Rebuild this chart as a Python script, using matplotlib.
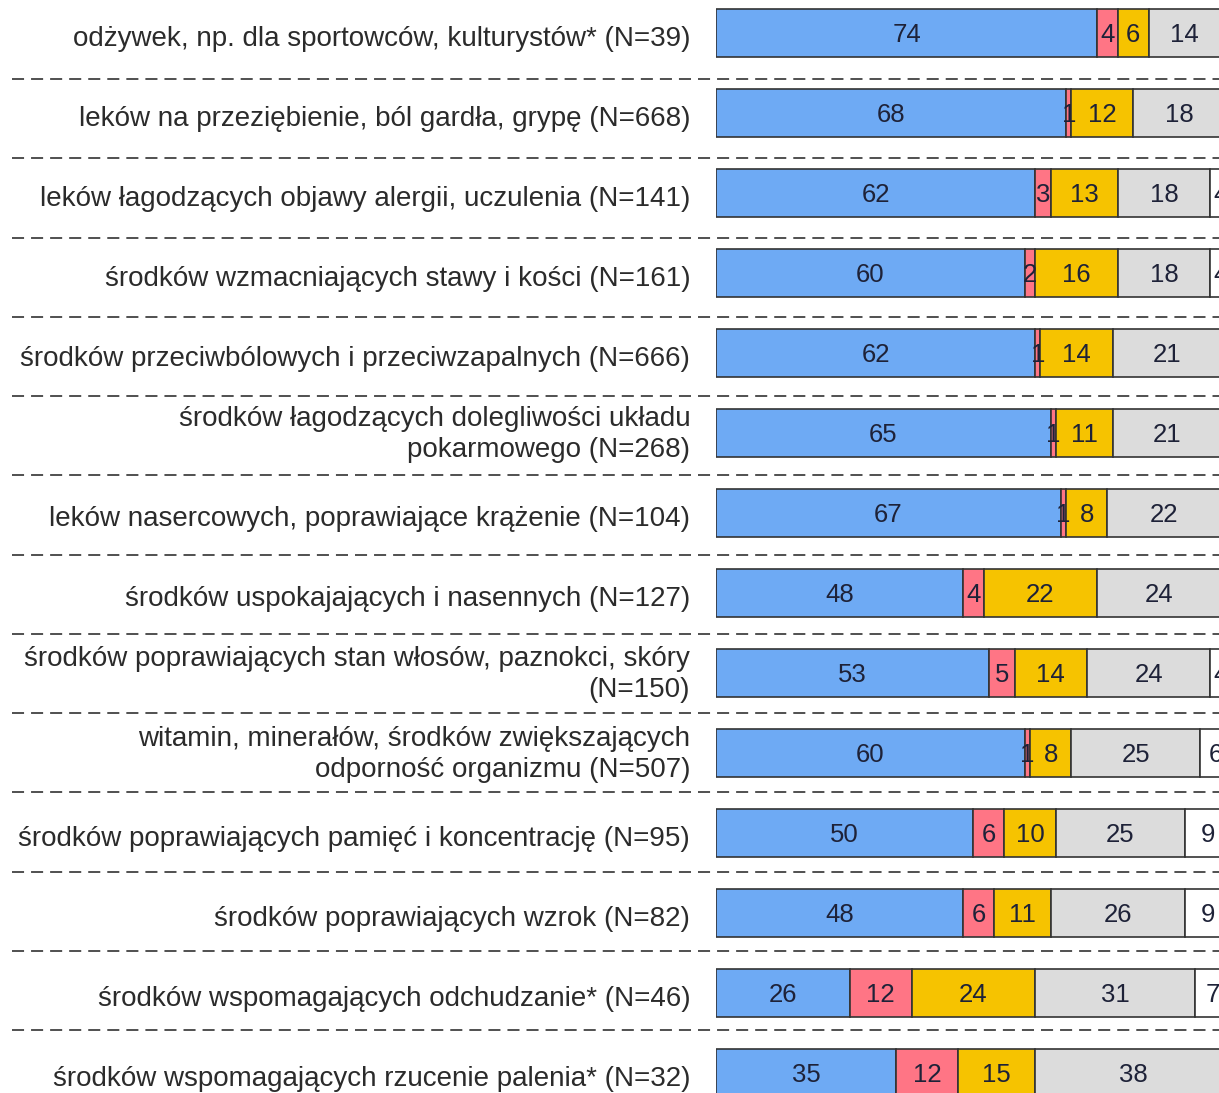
import matplotlib
matplotlib.use("Agg")
import matplotlib.pyplot as plt
from matplotlib.transforms import blended_transform_factory

plt.rcParams["font.family"] = ["Liberation Sans", "DejaVu Sans"]

labels = [
    "odżywek, np. dla sportowców, kulturystów* (N=39)",
    "leków na przeziębienie, ból gardła, grypę (N=668)",
    "leków łagodzących objawy alergii, uczulenia (N=141)",
    "środków wzmacniających stawy i kości (N=161)",
    "środków przeciwbólowych i przeciwzapalnych (N=666)",
    "środków łagodzących dolegliwości układu\npokarmowego (N=268)",
    "leków nasercowych, poprawiające krążenie (N=104)",
    "środków uspokajających i nasennych (N=127)",
    "środków poprawiających stan włosów, paznokci, skóry\n(N=150)",
    "witamin, minerałów, środków zwiększających\nodporność organizmu (N=507)",
    "środków poprawiających pamięć i koncentrację (N=95)",
    "środków poprawiających wzrok (N=82)",
    "środków wspomagających odchudzanie* (N=46)",
    "środków wspomagających rzucenie palenia* (N=32)",
]

seg_blue = [74, 68, 62, 60, 62, 65, 67, 48, 53, 60, 50, 48, 26, 35]
seg_red = [4, 1, 3, 2, 1, 1, 1, 4, 5, 1, 6, 6, 12, 12]
seg_yellow = [6, 12, 13, 16, 14, 11, 8, 22, 14, 8, 10, 11, 24, 15]
seg_gray = [14, 18, 18, 18, 21, 21, 22, 24, 24, 25, 25, 26, 31, 38]
seg_white = [2, 1, 4, 4, 2, 2, 2, 2, 4, 6, 9, 9, 7, 0]

series = [seg_blue, seg_red, seg_yellow, seg_gray, seg_white]
colors = ["#6eaaf4", "#ff7585", "#f6c300", "#dcdcdc", "#ffffff"]

W, H = 1219, 1093
fig = plt.figure(figsize=(W / 100, H / 100), dpi=100)
# axis runs 0..100 from x=716px to x=1231px (chart is cut at the right edge)
ax = fig.add_axes([716 / W, 0, 515 / W, 1])
ax.set_xlim(0, 100)
ax.set_ylim((H - 33) / 80, -33 / 80)
ax.axis("off")

rows = list(range(len(labels)))
left = [0] * len(labels)
for vals, col in zip(series, colors):
    ax.barh(rows, vals, left=left, height=0.6, color=col,
            edgecolor="#333333", linewidth=1.2)
    for r, v, l in zip(rows, vals, left):
        if v > 0:
            ax.text(l + v / 2, r + 0.02, str(v), ha="center", va="center",
                    fontsize=18.5, color="#1e2238", clip_on=False)
    left = [l + v for l, v in zip(left, vals)]

for r, lab in zip(rows, labels):
    dy = 0.02 if "\n" in lab else 0.07
    ax.text(-5.0, r + dy, lab, ha="right", va="center", fontsize=20,
            color="#2b2b2b", linespacing=1.25)

# dashed separators across the whole figure width
tr = blended_transform_factory(fig.transFigure, ax.transData)
for k in range(len(labels) - 1):
    y = (46 + 79.25 * k) / 80
    ax.plot([12 / W, 1.0], [y, y], transform=tr, color="#505050",
            linewidth=1.4, linestyle=(0, (6.2, 3.6)), clip_on=False)

fig.savefig("out.png", dpi=100)
